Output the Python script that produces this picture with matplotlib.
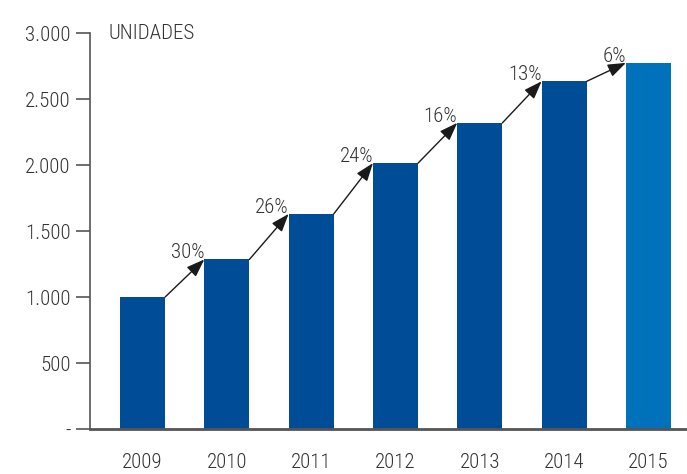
import matplotlib
matplotlib.use("Agg")
import matplotlib.pyplot as plt
from matplotlib import font_manager

years = ["2009", "2010", "2011", "2012", "2013", "2014", "2015"]
units = [1000, 1285, 1630, 2015, 2320, 2635, 2775]
growth = ["30%", "26%", "24%", "16%", "13%", "6%"]
yticks = [0, 500, 1000, 1500, 2000, 2500, 3000]
ytick_labels = ["-", "500", "1.000", "1.500", "2.000", "2.500", "3.000"]

# pick a narrow sans-serif face for all text
available = {f.name for f in font_manager.fontManager.ttflist}
preferred = ["Roboto Condensed", "Archivo Narrow", "Liberation Sans Narrow",
             "Barlow Condensed", "Asap Condensed"]
family = next((n for n in preferred if n in available), "DejaVu Sans")
plt.rcParams["font.family"] = [family, "DejaVu Sans"]
plt.rcParams["font.weight"] = "light"

dark_blue = "#004C97"
light_blue = "#0072BB"
text_color = "#333333"
axis_color = "#555555"
fs = 15

fig = plt.figure(figsize=(6.87, 4.74), dpi=100)
ax = fig.add_axes([0.131, 0.095, 0.869, 0.835])

x = list(range(len(years)))
width = 0.535
colors = [dark_blue] * (len(years) - 1) + [light_blue]
ax.bar(x, units, width=width, color=colors, zorder=2)

# growth arrows between consecutive bars
for i, label in enumerate(growth):
    start = (x[i] + width / 2, units[i])
    end = (x[i + 1] - width / 2, units[i + 1])
    ax.annotate("", xy=end, xytext=start,
                arrowprops=dict(arrowstyle="-|>,head_length=1.1,head_width=0.4",
                                color="#1a1a1a", lw=1.0,
                                shrinkA=0, shrinkB=0),
                zorder=3)
    ax.text(end[0], end[1] + 8, label, ha="right", va="baseline",
            fontsize=fs, color=text_color)

ax.set_xlim(-0.623, 6.457)
ax.set_ylim(0, 3000)
ax.set_xticks(x)
ax.set_xticklabels(years)
ax.set_yticks(yticks)
ax.set_yticklabels(ytick_labels)

for s in ["top", "right"]:
    ax.spines[s].set_visible(False)
ax.spines["left"].set_color(axis_color)
ax.spines["bottom"].set_color(axis_color)
ax.spines["left"].set_linewidth(1.2)
ax.spines["bottom"].set_linewidth(2.0)

ax.tick_params(axis="y", length=10, width=1.2, color=axis_color,
               labelsize=fs, labelcolor=text_color, pad=4)
ax.tick_params(axis="x", length=0, labelsize=fs, labelcolor=text_color, pad=17)

ax.text(0.031, 1.0, "UNIDADES", transform=ax.transAxes, ha="left", va="center",
        fontsize=fs, color=text_color)

fig.savefig("out.png", dpi=100)
